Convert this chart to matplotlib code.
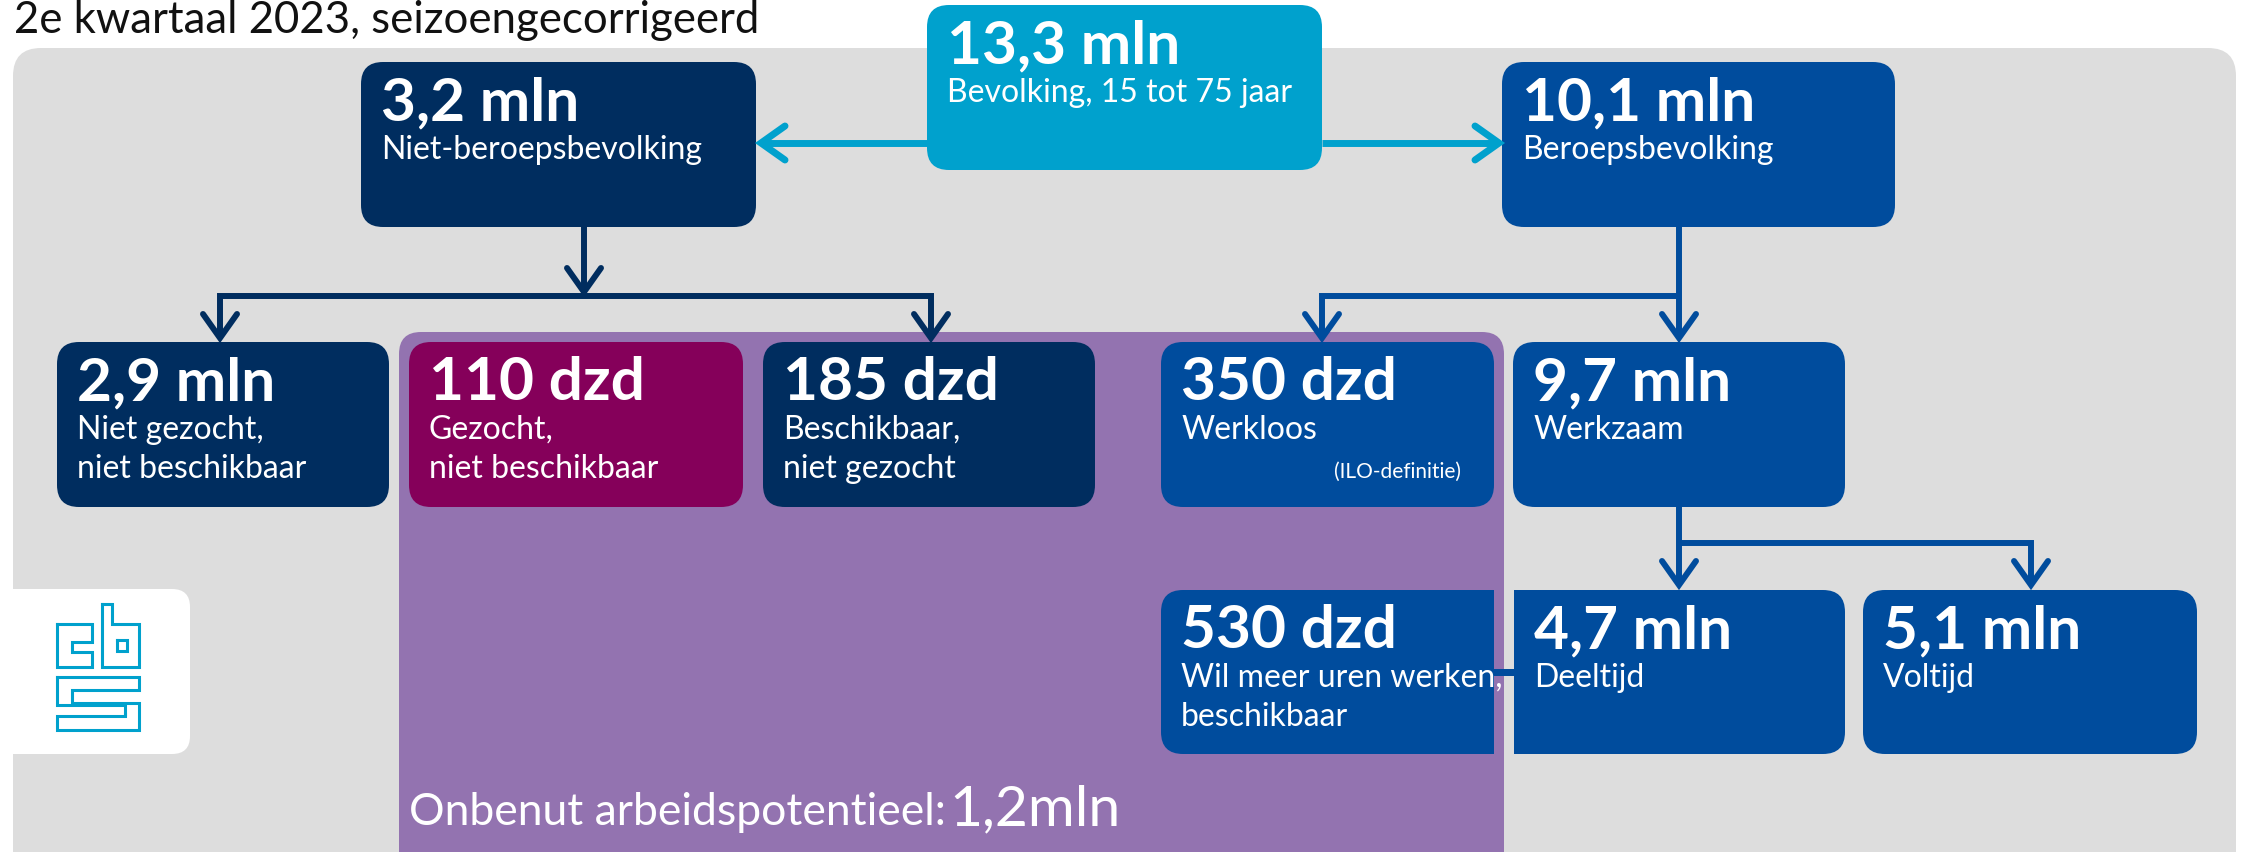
import matplotlib
matplotlib.use("Agg")
import matplotlib.pyplot as plt
from matplotlib.patches import FancyBboxPatch, Rectangle

# ---------------- data ----------------
title = "2e kwartaal 2023, seizoengecorrigeerd"
node_values = ["13,3 mln", "3,2 mln", "10,1 mln", "2,9 mln", "110 dzd", "185 dzd",
               "350 dzd", "9,7 mln", "530 dzd", "4,7 mln", "5,1 mln"]
node_labels = ["Bevolking, 15 tot 75 jaar", "Niet-beroepsbevolking", "Beroepsbevolking",
               "Niet gezocht,\nniet beschikbaar", "Gezocht,\nniet beschikbaar",
               "Beschikbaar,\nniet gezocht", "Werkloos", "Werkzaam",
               "Wil meer uren werken,\nbeschikbaar", "Deeltijd", "Voltijd"]
note_ilo = "(ILO-definitie)"
potential_label = "Onbenut arbeidspotentieel:"
potential_value = "1,2mln"

# ---------------- style ----------------
NAVY = "#002d5f"
BLUE = "#004c9d"
CYAN = "#00a1cd"
MAGENTA = "#85005a"
PURPLE = "#9373b0"
GRAY = "#dddddd"
FONT = ["Lato", "DejaVu Sans"]

W, H = 2242, 852
fig = plt.figure(figsize=(W / 100, H / 100), dpi=100)
ax = fig.add_axes([0, 0, 1, 1])
ax.set_xlim(0, W)
ax.set_ylim(H, 0)
ax.axis("off")

def rbox(x0, y0, x1, y1, color, r=22, z=1):
    p = FancyBboxPatch((x0, y0), x1 - x0, y1 - y0,
                       boxstyle=f"round,pad=0,rounding_size={r}",
                       fc=color, ec="none", zorder=z)
    ax.add_patch(p)

def rect(x0, y0, x1, y1, color, z=1):
    ax.add_patch(Rectangle((x0, y0), x1 - x0, y1 - y0, fc=color, ec="none", zorder=z))

# background panels
rbox(13, 48, 2236, 950, GRAY, r=28, z=0)
rbox(399, 332, 1504, 950, PURPLE, r=22, z=0.5)

# layout of boxes (x0, y0, x1, y1) and colours, same order as data
layout = [(927, 5, 1322, 170), (361, 62, 756, 227), (1502, 62, 1895, 227),
          (57, 342, 389, 507), (409, 342, 743, 507), (763, 342, 1095, 507),
          (1161, 342, 1494, 507), (1513, 342, 1845, 507),
          (1161, 590, 1494, 754), (1514, 590, 1845, 754), (1863, 590, 2197, 754)]
colors = [CYAN, NAVY, BLUE, NAVY, MAGENTA, NAVY, BLUE, BLUE, BLUE, BLUE, BLUE]

for (x0, y0, x1, y1), c, v, lab in zip(layout, colors, node_values, node_labels):
    rbox(x0, y0, x1, y1, c, z=2)
    ax.text(x0 + 20, y0 + 58, v, color="white", fontsize=43.5, fontweight="bold",
            family=FONT, va="baseline", ha="left", zorder=5)
    for i, line in enumerate(lab.split("\n")):
        ax.text(x0 + 20, y0 + 97 + 39 * i, line, color="white", fontsize=23,
                family=FONT, va="baseline", ha="left", zorder=5)

# square joined corners for 530 dzd / 4,7 mln and connector
rect(1440, 590, 1494, 754, BLUE, z=2)
rect(1514, 590, 1570, 754, BLUE, z=2)
rect(1492, 669, 1516, 676, BLUE, z=2)

ax.text(1461, 478, note_ilo, color="white", fontsize=15, family=FONT,
        va="baseline", ha="right", zorder=5)

# ---------------- arrows ----------------
LW = 4.3

def seg(pts, color, lw=LW):
    xs, ys = zip(*pts)
    ax.plot(xs, ys, color=color, lw=lw, solid_capstyle="butt",
            solid_joinstyle="miter", zorder=3)

def head(x, y, direction, color, lw=LW, L=24, Wd=17):
    if direction == "down":
        pts = [(x - Wd, y - L), (x, y), (x + Wd, y - L)]
    elif direction == "left":
        pts = [(x + L, y - Wd), (x, y), (x + L, y + Wd)]
    else:
        pts = [(x - L, y - Wd), (x, y), (x - L, y + Wd)]
    xs, ys = zip(*pts)
    ax.plot(xs, ys, color=color, lw=lw, solid_capstyle="round",
            solid_joinstyle="miter", zorder=3)

# population -> two branches (cyan)
seg([(927, 143), (763, 143)], CYAN, lw=5)
head(761, 143, "left", CYAN, lw=5)
seg([(1322, 143), (1497, 143)], CYAN, lw=5)
head(1499, 143, "right", CYAN, lw=5)

# niet-beroepsbevolking branches (navy)
seg([(584, 227), (584, 293)], NAVY)
head(584, 292, "down", NAVY)
seg([(220, 338), (220, 296), (931, 296), (931, 338)], NAVY)
head(220, 338, "down", NAVY)
head(931, 338, "down", NAVY)

# beroepsbevolking branches (blue)
seg([(1679, 227), (1679, 338)], BLUE)
seg([(1679, 296), (1322, 296), (1322, 338)], BLUE)
head(1679, 338, "down", BLUE)
head(1322, 338, "down", BLUE)

# werkzaam branches
seg([(1679, 507), (1679, 585)], BLUE)
seg([(1679, 543), (2031, 543), (2031, 585)], BLUE)
head(1679, 585, "down", BLUE)
head(2031, 585, "down", BLUE)

# ---------------- texts ----------------
ax.text(14, 33, title, color="#111111", fontsize=31.5, family=FONT,
        va="baseline", ha="left", zorder=5)

t1 = ax.text(409, 825, potential_label, color="white", fontsize=32, family=FONT,
             va="baseline", ha="left", zorder=5)
fig.canvas.draw()
bb = t1.get_window_extent(fig.canvas.get_renderer())
ax.text(409 + bb.width + 3, 825, potential_value, color="white", fontsize=41,
        family=FONT, va="baseline", ha="left", zorder=5)

# ---------------- logo ----------------
rbox(-30, 589, 190, 754, "white", r=18, z=1)
ox, oy, s = 40, 590, 1 / 3
def lpath(pts, closed=True):
    pts = [(ox + px * s, oy + py * s) for px, py in pts]
    if closed:
        pts = pts + [pts[0]]
    xs, ys = zip(*pts)
    ax.plot(xs, ys, color=CYAN, lw=2.2, solid_joinstyle="miter", zorder=3)

lpath([(50, 102), (155, 102), (155, 155), (95, 155), (95, 185), (155, 185), (155, 230), (50, 230)])
lpath([(185, 42), (215, 42), (215, 102), (298, 102), (298, 230), (185, 230)])
lpath([(232, 150), (262, 150), (262, 182), (232, 182)])
lpath([(50, 262), (298, 262), (298, 300), (95, 300), (95, 338), (298, 338), (298, 420),
       (50, 420), (50, 378), (255, 378), (255, 372)], closed=False)
lpath([(50, 262), (50, 345), (255, 345), (255, 372)], closed=False)

fig.savefig("out.png", dpi=100)
